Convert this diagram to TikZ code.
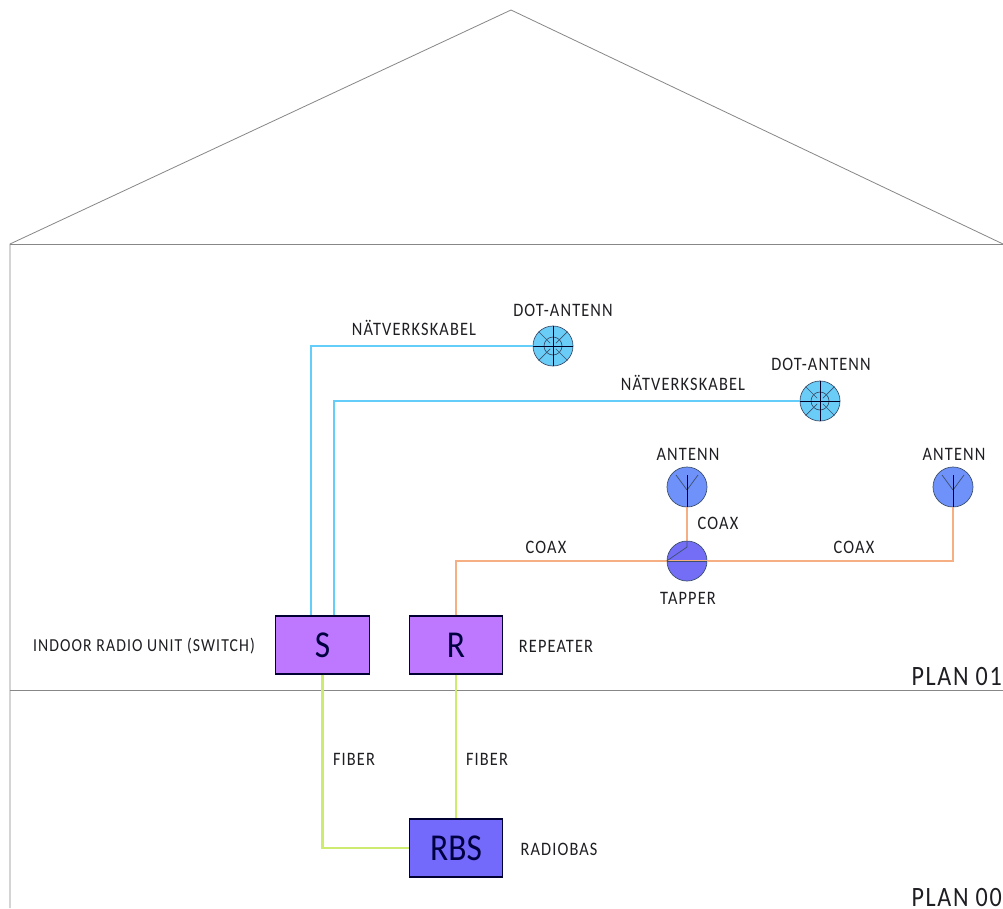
\documentclass[tikz,border=0pt]{standalone}
\usepackage{fontspec}
\setmainfont[LetterSpace=6,FakeStretch=0.86]{Carlito}
\newfontfamily\boxfont[FakeStretch=0.88]{Carlito}
\definecolor{cabl}{RGB}{100,205,250}
\definecolor{coaxc}{RGB}{245,175,130}
\definecolor{fibc}{RGB}{205,235,110}
\definecolor{purp}{RGB}{190,120,255}
\definecolor{rbsc}{RGB}{115,105,250}
\definecolor{antc}{RGB}{110,145,250}
\definecolor{tapc}{RGB}{115,110,245}
\definecolor{dotc}{RGB}{105,205,248}
\definecolor{wallc}{RGB}{135,135,135}
\definecolor{textc}{RGB}{30,30,35}
\definecolor{symc}{RGB}{60,80,110}
\tikzset{
 wall/.style={draw=wallc,line width=0.8pt},
 lab/.style={text=textc,font=\fontsize{19}{21}\selectfont,inner sep=0pt},
 lablong/.style={lab,font=\fontsize{18.3}{20}\selectfont},
 plan/.style={text=textc,font=\fontsize{28}{30}\selectfont,inner sep=0pt,anchor=east},
 ubox/.style={draw=black!80!blue,line width=1.1pt,fill=purp,minimum width=93.5pt,minimum height=58pt,inner sep=0pt,text=black!75!blue,font=\boxfont\fontsize{38}{40}\selectfont},
 rbsbox/.style={ubox,fill=rbsc},
 dotant/.style={circle,draw=symc,fill=dotc,line width=0.7pt,minimum size=40pt,inner sep=0pt},
 ant/.style={circle,draw=symc,fill=antc,line width=0.7pt,minimum size=40pt,inner sep=0pt},
 tap/.style={ant,fill=tapc},
 netw/.style={draw=cabl,line width=1.7pt},
 coax/.style={draw=coaxc,line width=2.4pt},
 fib/.style={draw=fibc,line width=2.4pt},
 sym/.style={draw=symc,line width=0.7pt},
 symb/.style={draw=black!85!blue,line width=1pt},
}
\begin{document}
\begin{tikzpicture}[x=1pt,y=-1pt]
\useasboundingbox (0,0) rectangle (1003,908);
\fill[white] (0,0) rectangle (1003,908);
% house
\coordinate (eaveL) at (10,244);
\coordinate (ridge) at (511,10);
\coordinate (eaveR) at (1003,244);
\coordinate (footL) at (10,908);
\coordinate (floorL) at (10,690);
\coordinate (floorR) at (1003,690);
\draw[wall] (footL) -- (eaveL) -- (ridge) -- (eaveR);
\draw[wall] (eaveL) -- (eaveR);
\draw[wall] (floorL) -- (floorR);
% nodes
\node[ubox] (S) at (322.5,645) {S};
\node[ubox] (R) at (456,645) {R};
\node[rbsbox] (RBS) at (456,848) {RBS};
\node[dotant] (D1) at (553,346) {};
\node[dotant] (D2) at (820,401) {};
\node[ant] (A1) at (687,487) {};
\node[ant] (A2) at (953,487) {};
\node[tap] (T) at (687,561) {};
% connectors
\coordinate (Sa) at ([xshift=-11.5pt]S.north);
\coordinate (Sb) at ([xshift=11.5pt]S.north);
\draw[netw] (Sa) |- (D1.west);
\draw[netw] (Sb) |- (D2.west);
\draw[coax] (R.north) |- (T.west);
\draw[coax] (T.west) -- (T.east) -| (A2.south);
\draw[coax] (T.north) -- (A1.south);
\draw[fib] (S.south) |- (RBS.west);
\draw[fib] (R.south) -- (RBS.north);
% dot antenna symbols
\foreach \n in {D1,D2}{
 \draw[sym] (\n) circle (9pt);
 \foreach \a in {45,135,225,315}{
  \draw[sym] (\n) ++(\a:4pt) -- (\n.\a);
 }
 \draw[symb] (\n.north) -- (\n.south);
 \draw[symb] (\n.west) -- (\n.east);
}
% antenna symbols (canvas shifts point up, so negative yshift goes down)
\foreach \n in {A1,A2}{
 \draw[sym] ([yshift=-3pt]\n.center) -- ++(-11,-15);
 \draw[sym] ([yshift=-3pt]\n.center) -- ++(11,-15);
 \draw[symb] (\n.south) -- ([yshift=-8pt]\n.north);
}
% tapper symbol
\draw[sym] (T.west) -- ([yshift=14pt]T.center) -- (T.north);
\draw[sym] (T.west) -- (T.east);
% labels
\node[lab] (l1) at (414,328) {NÄTVERKSKABEL};
\node[lab] (l2) at (683,383) {NÄTVERKSKABEL};
\node[lab] (l3) at (563,310) {DOT-ANTENN};
\node[lab] (l4) at (821,364) {DOT-ANTENN};
\node[lab] (l5) at (688,454) {ANTENN};
\node[lab] (l6) at (954,454) {ANTENN};
\node[lab] (l7) at (718,523) {COAX};
\node[lab] (l8) at (546,547) {COAX};
\node[lab] (l9) at (854,547) {COAX};
\node[lab] (l10) at (688,598) {TAPPER};
\node[lablong] (l11) at (144,646) {INDOOR RADIO UNIT (SWITCH)};
\node[lab] (l12) at (556,646) {REPEATER};
\node[lab] (l13) at (354,759) {FIBER};
\node[lab] (l14) at (487,759) {FIBER};
\node[lab] (l15) at (559,849) {RADIOBAS};
\node[plan] (p1) at (1002,676) {PLAN 01};
\node[plan] (p0) at (1002,897) {PLAN 00};
\end{tikzpicture}
\end{document}
